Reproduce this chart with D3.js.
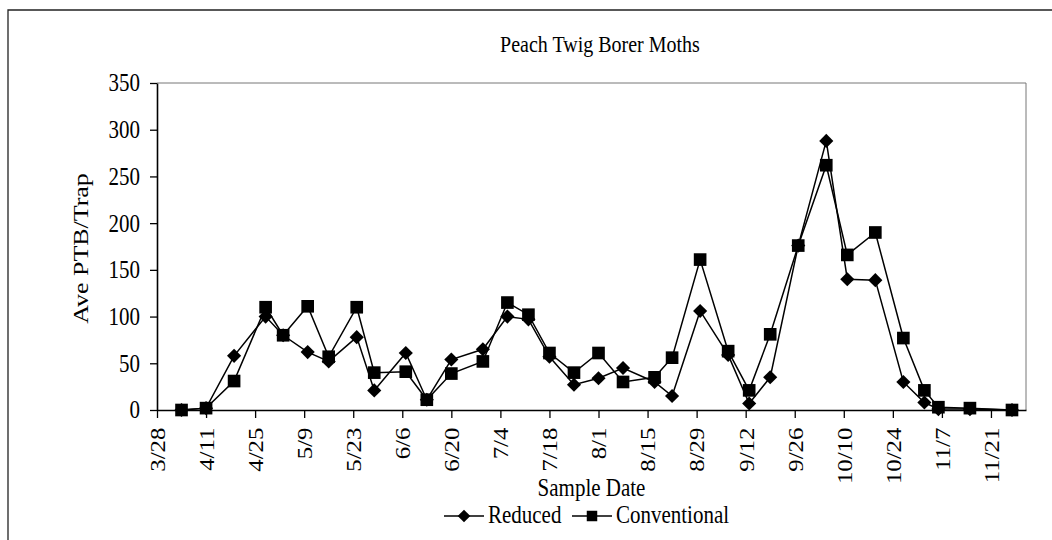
<!DOCTYPE html>
<html>
<head>
<meta charset="utf-8">
<script src="https://cdn.jsdelivr.net/npm/d3@7"></script>
<style>
    body { margin: 0; background: #fff; }
    text { font-family: "Liberation Serif", "Times New Roman", serif; fill: #000; }
</style>
</head>
<body>
<div id="chart-container"></div>
<script>
// Sample dates (month/day)
const sampleDates = ["4/4", "4/11", "4/19", "4/28", "5/3", "5/10", "5/16", "5/24", "5/29", "6/7",
    "6/13", "6/20", "6/29", "7/6", "7/12", "7/18", "7/25", "8/1", "8/8", "8/17",
    "8/22", "8/30", "9/7", "9/13", "9/19", "9/27", "10/5", "10/11", "10/19", "10/27",
    "11/2", "11/6", "11/15", "11/27"];

// Average moths per trap
const reducedValues = [0, 2, 58, 100, 80, 62, 52, 78, 21, 61,
    11, 54, 65, 100, 97, 57, 27, 34, 45, 30,
    15, 106, 59, 7, 35, 176, 288, 140, 139, 30,
    8, 1, 1, 0];
const conventionalValues = [0, 2, 31, 110, 80, 111, 57, 110, 40, 41,
    11, 39, 52, 115, 102, 61, 40, 61, 30, 35,
    56, 161, 63, 21, 81, 176, 262, 166, 190, 77,
    21, 3, 2, 0];

const yTicks = [0, 50, 100, 150, 200, 250, 300, 350];
const xStart = "3/28";
const xEnd = "12/1";

const seriesNames = ["Reduced", "Conventional"];

// the scanned chart is a bit taller than wide, so text gets stretched
const stretch = "scale(1,1.18)";

function parseDay(s) {
    const [m, d] = s.split("/").map(Number);
    return new Date(Date.UTC(2003, m - 1, d));
}

// diamond = square turned 45 degrees
const diamond = {
    draw(ctx, size) {
        const r = Math.sqrt(size / 2);
        ctx.moveTo(0, -r);
        ctx.lineTo(r, 0);
        ctx.lineTo(0, r);
        ctx.lineTo(-r, 0);
        ctx.closePath();
    }
};

function createChart() {
    const width = 1052, height = 540;
    const plot = { left: 157, top: 83, right: 1026, bottom: 410 };

    const svg = d3.select("#chart-container").append("svg")
        .attr("width", width)
        .attr("height", height);

    // Outer chart border (only top and left show in the picture)
    svg.append("path")
        .attr("d", `M8,${height} V10 H${width}`)
        .attr("fill", "none")
        .attr("stroke", "#222")
        .attr("stroke-width", 1.3);

    const x = d3.scaleUtc()
        .domain([parseDay(xStart), parseDay(xEnd)])
        .range([plot.left, plot.right]);

    const y = d3.scaleLinear()
        .domain([0, 350])
        .range([plot.bottom, plot.top]);

    // Plot area frame (top and right)
    svg.append("path")
        .attr("d", `M${plot.left},${plot.top} H${plot.right} V${plot.bottom}`)
        .attr("fill", "none")
        .attr("stroke", "#777")
        .attr("stroke-width", 1);

    // Title
    svg.append("text")
        .attr("transform", `translate(600,52) ${stretch}`)
        .attr("text-anchor", "middle")
        .style("font-size", "20px")
        .text("Peach Twig Borer Moths");

    // Y axis
    const yAxis = svg.append("g")
        .attr("transform", `translate(${plot.left},0)`)
        .call(d3.axisLeft(y).tickValues(yTicks).tickSize(7).tickPadding(10).tickSizeOuter(0));
    yAxis.select(".domain").attr("stroke", "#000").attr("stroke-width", 1.6);
    yAxis.selectAll(".tick line").attr("stroke", "#000").attr("stroke-width", 1.3);
    yAxis.selectAll(".tick text")
        .attr("font-family", null)
        .attr("transform", stretch)
        .style("font-size", "21px");

    // X axis, ticks every two weeks
    const twoWeeks = d3.range(0, 18).map(i => d3.utcDay.offset(parseDay(xStart), i * 14));
    const xAxis = svg.append("g")
        .attr("transform", `translate(0,${plot.bottom})`)
        .call(d3.axisBottom(x).tickValues(twoWeeks)
            .tickFormat(d => `${d.getUTCMonth() + 1}/${d.getUTCDate()}`)
            .tickSize(8).tickSizeOuter(0));
    xAxis.select(".domain").attr("stroke", "#000").attr("stroke-width", 1.6);
    xAxis.selectAll(".tick line").attr("stroke", "#000").attr("stroke-width", 1.3);
    xAxis.selectAll(".tick text")
        .attr("font-family", null)
        .style("font-size", "21px")
        .attr("text-anchor", "end")
        .attr("transform", `${stretch} rotate(-90)`)
        .attr("x", -15)
        .attr("y", 0)
        .attr("dy", "0.35em");

    // Axis titles
    svg.append("text")
        .attr("transform", `translate(80,${(plot.top + plot.bottom) / 2 + 2}) ${stretch} rotate(-90)`)
        .attr("text-anchor", "middle")
        .attr("dy", "0.35em")
        .style("font-size", "22px")
        .text("Ave PTB/Trap");

    svg.append("text")
        .attr("transform", `translate(${(plot.left + plot.right) / 2},496) ${stretch}`)
        .attr("text-anchor", "middle")
        .style("font-size", "21px")
        .text("Sample Date");

    // Lines and markers
    const line = d3.line()
        .x(d => x(d.date))
        .y(d => y(d.value));

    const series = [
        { name: seriesNames[0], values: reducedValues, symbol: diamond, size: 100 },
        { name: seriesNames[1], values: conventionalValues, symbol: d3.symbolSquare, size: 160 }
    ];

    series.forEach(s => {
        const pts = sampleDates.map((d, i) => ({ date: parseDay(d), value: s.values[i] }));
        svg.append("path")
            .datum(pts)
            .attr("fill", "none")
            .attr("stroke", "#000")
            .attr("stroke-width", 1.5)
            .attr("d", line);
    });

    series.forEach(s => {
        const pts = sampleDates.map((d, i) => ({ date: parseDay(d), value: s.values[i] }));
        svg.append("g").selectAll("path")
            .data(pts)
            .enter()
            .append("path")
            .attr("transform", d => `translate(${x(d.date)},${y(d.value)})`)
            .attr("d", d3.symbol().type(s.symbol).size(s.size))
            .attr("fill", "#000");
    });

    // Legend
    const legend = svg.append("g").attr("transform", "translate(0,516)");
    const legendItems = [
        { name: seriesNames[0], x0: 444, symbol: diamond, size: 80 },
        { name: seriesNames[1], x0: 572, symbol: d3.symbolSquare, size: 110 }
    ];
    legendItems.forEach(item => {
        legend.append("line")
            .attr("x1", item.x0).attr("x2", item.x0 + 40)
            .attr("y1", 0).attr("y2", 0)
            .attr("stroke", "#000").attr("stroke-width", 1.5);
        legend.append("path")
            .attr("transform", `translate(${item.x0 + 20},0)`)
            .attr("d", d3.symbol().type(item.symbol).size(item.size))
            .attr("fill", "#000");
        legend.append("text")
            .attr("transform", `translate(${item.x0 + 44},7) ${stretch}`)
            .style("font-size", "21px")
            .text(item.name);
    });
}

createChart();
</script>
</body>
</html>
